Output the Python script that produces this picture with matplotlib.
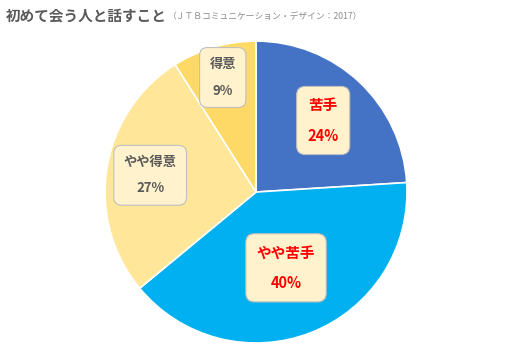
import matplotlib
matplotlib.use("Agg")
import matplotlib.pyplot as plt
import numpy as np

plt.rcParams['font.family'] = ['Noto Sans CJK JP', 'DejaVu Sans']

categories = ["苦手", "やや苦手", "やや得意", "得意"]
values = [24, 40, 27, 9]
colors = ["#4472C4", "#00B0F0", "#FFE699", "#FFD966"]
text_colors = ["#FF0000", "#FF0000", "#595959", "#595959"]
label_r = [0.65, 0.54, 0.71, 0.79]
font_sizes = [10.5, 10.5, 9.5, 9.5]

fig = plt.figure(figsize=(5.10, 3.53), dpi=100)
ax = fig.add_axes([0.502 - 0.296, 0.456 - 0.4278, 0.592, 0.8556])
wedges, _ = ax.pie(values, colors=colors, startangle=90, counterclock=False,
                   wedgeprops=dict(edgecolor="white", linewidth=1.2))
ax.set_aspect('equal')
ax.set_xlim(-1, 1)
ax.set_ylim(-1, 1)

for w, cat, v, tc, r, fs in zip(wedges, categories, values, text_colors, label_r, font_sizes):
    ang = np.deg2rad((w.theta1 + w.theta2) / 2)
    x, y = r * np.cos(ang), r * np.sin(ang)
    ax.text(x, y, f"{cat}\n{v}%", ha="center", va="center", fontsize=fs,
            fontweight="bold", color=tc, linespacing=2.1,
            bbox=dict(boxstyle="round,pad=0.75,rounding_size=0.6",
                      facecolor="#FFF2CC", edgecolor="#BFBFBF", linewidth=0.8))

fig.text(0.012, 0.955, "初めて会う人と話すこと", fontsize=10.5, fontweight="bold",
         color="#595959", ha="left", va="center")
fig.text(0.330, 0.952, "（ＪＴＢコミュニケーション・デザイン：2017）", fontsize=6.3,
         color="#8C8C8C", ha="left", va="center")

fig.savefig("out.png", dpi=100)
